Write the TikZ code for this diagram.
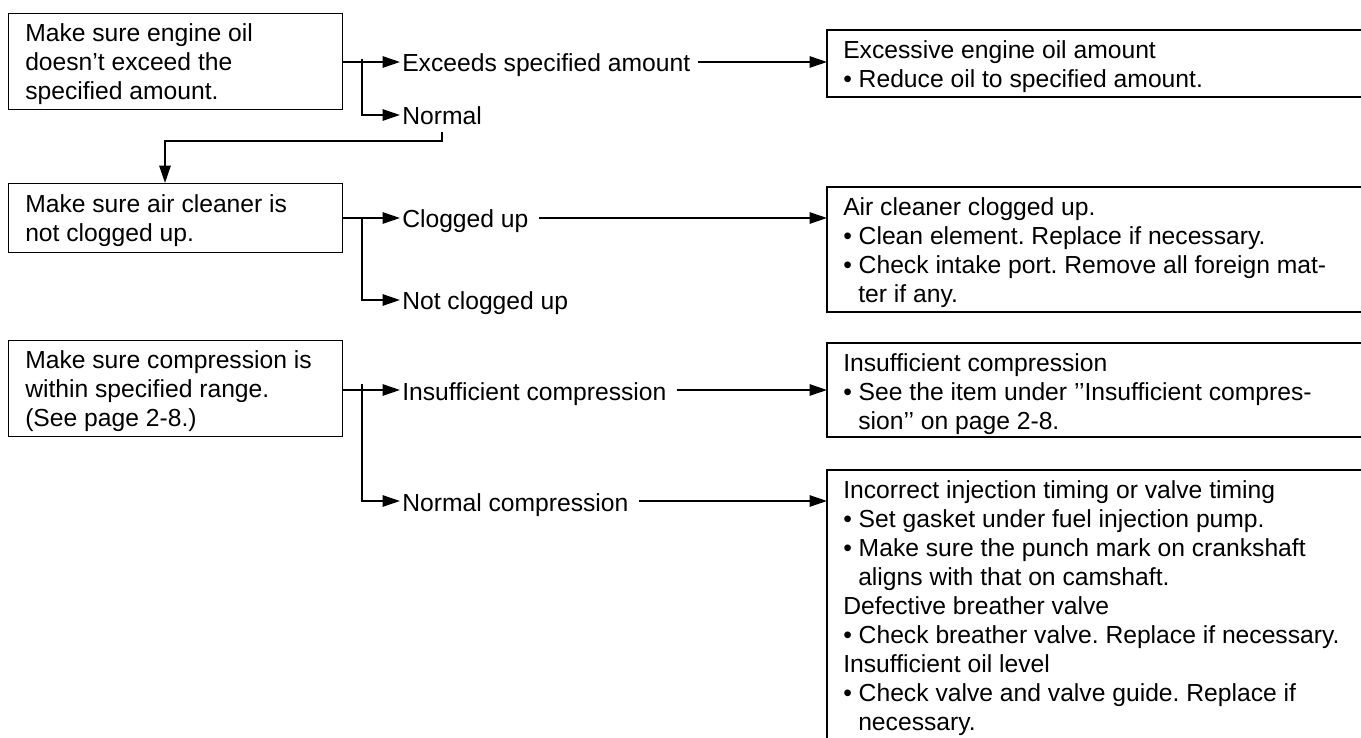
\documentclass[tikz,border=0pt]{standalone}
\usepackage{fontspec}
\setmainfont{Liberation Sans}
\usetikzlibrary{arrows.meta}
\newcommand\ind{\hspace*{11.25pt}}
\frenchspacing
\begin{document}
\begin{tikzpicture}[x=0.75pt,y=-0.75pt,
  font=\fontsize{18.5pt}{21.75pt}\selectfont,
  leftbox/.style={draw,line width=1.1pt,anchor=north west,minimum width=250.5pt,inner sep=0pt},
  frame/.style={draw,line width=1.1pt},
  txt/.style={anchor=north west,inner sep=0pt,align=left},
  lab/.style={anchor=west,inner xsep=1.5pt,inner ysep=0pt,text height=15pt,text depth=0pt},
  con/.style={draw,line width=1.2pt},
  arr/.style={con,-{Triangle[length=13pt,width=8.5pt]}}]
\useasboundingbox (0,0) rectangle (1361,738);

% left boxes
\node[leftbox,minimum height=72pt] (box1) at (8,13) {};
\node[txt] (t1) at (25,20.7) {\strut Make sure engine oil\\doesn’t exceed the\\specified amount.};
\node[leftbox,minimum height=51.75pt] (box2) at (8,183) {};
\node[txt] (t2) at (25,191.7) {\strut Make sure air cleaner is\\not clogged up.};
\node[leftbox,minimum height=72pt] (box3) at (8,340) {};
\node[txt] (t3) at (25,347.7) {\strut Make sure compression is\\within specified range.\\(See page 2-8.)};

% right boxes (open to the right)
\draw[frame] (1361,30) -- (827,30) -- (827,97) -- (1361,97);
\draw[frame] (1361,187) -- (827,187) -- (827,312) -- (1361,312);
\draw[frame] (1361,343) -- (827,343) -- (827,437) -- (1361,437);
\draw[frame] (1361,470) -- (827,470) -- (827,738);
\coordinate (p1) at (827,62);
\coordinate (p2) at (827,218);
\coordinate (p3) at (827,391);
\coordinate (p4) at (827,502);

\node[txt] (r1) at (843,37.7) {\strut Excessive engine oil amount\\• Reduce oil to specified amount.};
\node[txt] (r2) at (843,194.7) {\strut Air cleaner clogged up.\\• Clean element. Replace if necessary.\\• Check intake port. Remove all foreign mat-\\\ind ter if any.};
\node[txt] (r3) at (843,350.7) {\strut Insufficient compression\\• See the item under ’’Insufficient compres-\\\ind sion’’ on page 2-8.};
\node[txt] (r4) at (843,477.7) {\strut Incorrect injection timing or valve timing\\• Set gasket under fuel injection pump.\\• Make sure the punch mark on crankshaft\\\ind aligns with that on camshaft.\\Defective breather valve\\• Check breather valve. Replace if necessary.\\Insufficient oil level\\• Check valve and valve guide. Replace if\\\ind necessary.};

% branch labels
\node[lab] (l1) at (400,62) {Exceeds specified amount};
\node[lab] (l2) at (400,115) {Normal};
\node[lab] (l3) at (400,218) {Clogged up};
\node[lab] (l4) at (400,300) {Not clogged up};
\node[lab] (l5) at (400,390) {Insufficient compression};
\node[lab] (l6) at (400,501) {Normal compression};

% junction points
\coordinate (j1) at (362,59);
\coordinate (j2) at (362,218);
\coordinate (j3) at (362,384);
\coordinate (k1) at (165,141);

% connectors, first check
\draw[arr] (l1.west -| box1.east) -- (l1.west);
\draw[arr] (j1) |- (l2.west);
\draw[arr] ([xshift=4pt]l1.east) -- (l1.east -| p1);
\draw[arr] ([yshift=-5pt]l2.south) |- (k1) -- (k1 |- box2.north);

% second check
\draw[arr] (l3.west -| box2.east) -- (l3.west);
\draw[arr] (j2) |- (l4.west);
\draw[arr] ([xshift=6pt]l3.east) -- (l3.east -| p2);

% third check
\draw[arr] (l5.west -| box3.east) -- (l5.west);
\draw[arr] (j3) |- (l6.west);
\draw[arr] ([xshift=6pt]l5.east) -- (l5.east -| p3);
\draw[arr] ([xshift=6pt]l6.east) -- (l6.east -| p4);
\end{tikzpicture}
\end{document}
